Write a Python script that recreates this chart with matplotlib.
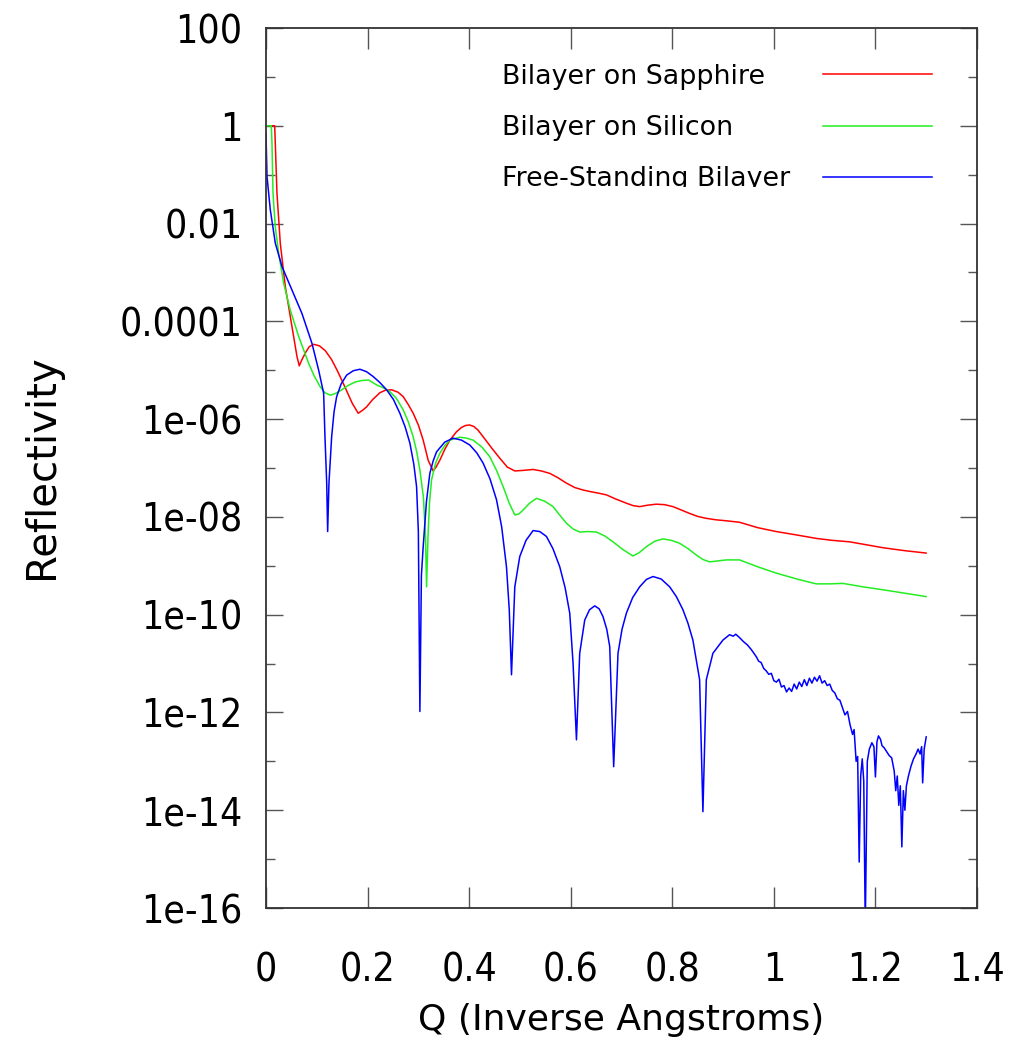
import matplotlib
matplotlib.use("Agg")
import matplotlib.pyplot as plt
import numpy as np
from matplotlib.patches import Rectangle
from matplotlib.ticker import FixedLocator, FixedFormatter, NullFormatter

# ---------------- data ----------------
series_names = ["Bilayer on Sapphire", "Bilayer on Silicon", "Free-Standing Bilayer"]
series_colors = ["#ff0000", "#22ee22", "#0000ff"]

q_sapphire = [0.0, 0.0171, 0.0183, 0.0216, 0.0281, 0.0380, 0.0512, 0.0610, 0.0655, 0.0700,
              0.0773, 0.0850, 0.0938, 0.1050, 0.1167, 0.1290, 0.1400, 0.1500, 0.1600, 0.1700,
              0.1816, 0.1900, 0.1981, 0.2100, 0.2243, 0.2350, 0.2473, 0.2600, 0.2701, 0.2800,
              0.2898, 0.3000, 0.3095, 0.3193, 0.3291, 0.3350, 0.3423, 0.3520, 0.3620, 0.3750,
              0.3850, 0.3930, 0.4010, 0.4090, 0.4170, 0.4275, 0.4450, 0.4604, 0.4750, 0.4899,
              0.5050, 0.5259, 0.5420, 0.5587, 0.5750, 0.5916, 0.6080, 0.6242, 0.6374, 0.6571,
              0.6703, 0.6900, 0.7096, 0.7230, 0.7358, 0.7520, 0.7686, 0.7850, 0.8013, 0.8180,
              0.8342, 0.8500, 0.8670, 0.8864, 0.9064, 0.9325, 0.9680, 1.0047, 1.0450, 1.0834,
              1.1150, 1.1489, 1.1820, 1.2144, 1.2570, 1.2998]
log_sapphire = [0.0, 0.0, -0.36, -1.38, -2.40, -3.29, -4.11, -4.72, -4.91, -4.80,
                -4.65, -4.52, -4.47, -4.50, -4.60, -4.78, -5.00, -5.22, -5.45, -5.68,
                -5.88, -5.82, -5.75, -5.60, -5.46, -5.41, -5.40, -5.45, -5.54, -5.70,
                -5.88, -6.12, -6.43, -6.84, -7.06, -6.98, -6.84, -6.62, -6.43, -6.26,
                -6.17, -6.13, -6.12, -6.15, -6.22, -6.36, -6.60, -6.80, -6.98, -7.06,
                -7.05, -7.03, -7.06, -7.11, -7.20, -7.31, -7.40, -7.45, -7.48, -7.52,
                -7.55, -7.64, -7.72, -7.77, -7.79, -7.76, -7.74, -7.75, -7.79, -7.86,
                -7.93, -7.99, -8.03, -8.06, -8.08, -8.11, -8.22, -8.30, -8.37, -8.44,
                -8.48, -8.51, -8.57, -8.63, -8.69, -8.74]

q_silicon = [0.0, 0.0104, 0.0118, 0.0138, 0.0183, 0.0250, 0.0348, 0.0478, 0.0643, 0.0840,
             0.0950, 0.1068, 0.1160, 0.1265, 0.1380, 0.1495, 0.1620, 0.1757, 0.1890, 0.2020,
             0.2178, 0.2310, 0.2440, 0.2570, 0.2701, 0.2800, 0.2898, 0.2970, 0.3030, 0.3100,
             0.3140, 0.3162, 0.3190, 0.3220, 0.3260, 0.3340, 0.3423, 0.3520, 0.3620, 0.3817,
             0.3950, 0.4078, 0.4250, 0.4407, 0.4540, 0.4669, 0.4790, 0.4899, 0.4980, 0.5062,
             0.5190, 0.5326, 0.5490, 0.5652, 0.5780, 0.5916, 0.6050, 0.6177, 0.6340, 0.6506,
             0.6670, 0.6833, 0.7030, 0.7226, 0.7350, 0.7490, 0.7650, 0.7816, 0.7980, 0.8145,
             0.8310, 0.8473, 0.8600, 0.8735, 0.8900, 0.9064, 0.9325, 0.9680, 1.0047, 1.0450,
             1.0834, 1.1100, 1.1357, 1.1750, 1.2144, 1.2570, 1.2998]
log_silicon = [0.0, 0.0, -0.36, -1.38, -2.07, -2.61, -3.22, -3.77, -4.31, -4.86,
               -5.12, -5.34, -5.46, -5.51, -5.47, -5.40, -5.31, -5.24, -5.21, -5.20,
               -5.30, -5.36, -5.44, -5.58, -5.81, -6.05, -6.36, -6.68, -7.04, -7.60,
               -8.40, -9.43, -8.40, -7.70, -7.24, -6.90, -6.70, -6.54, -6.43, -6.37,
               -6.39, -6.43, -6.57, -6.77, -7.05, -7.38, -7.72, -7.96, -7.94, -7.86,
               -7.72, -7.62, -7.68, -7.79, -7.96, -8.13, -8.25, -8.31, -8.30, -8.31,
               -8.39, -8.51, -8.67, -8.80, -8.73, -8.61, -8.50, -8.45, -8.48, -8.54,
               -8.65, -8.78, -8.87, -8.92, -8.90, -8.88, -8.88, -9.02, -9.15, -9.27,
               -9.37, -9.37, -9.36, -9.43, -9.49, -9.56, -9.63]

q_free = [0.0, 0.0020, 0.0085, 0.0183, 0.0315, 0.0512, 0.0708, 0.0905, 0.1037, 0.1135,
          0.1161, 0.1195, 0.1214, 0.1240, 0.1293, 0.1340, 0.1391, 0.1480, 0.1588, 0.1720,
          0.1849, 0.1980, 0.2111, 0.2240, 0.2375, 0.2510, 0.2636, 0.2740, 0.2833, 0.2910,
          0.2965, 0.3000, 0.3030, 0.3060, 0.3095, 0.3160, 0.3226, 0.3290, 0.3358, 0.3520,
          0.3685, 0.3850, 0.4013, 0.4150, 0.4275, 0.4410, 0.4539, 0.4640, 0.4735, 0.4790,
          0.4834, 0.4870, 0.4899, 0.4997, 0.5120, 0.5259, 0.5390, 0.5522, 0.5650, 0.5784,
          0.5890, 0.5981, 0.6046, 0.6113, 0.6177, 0.6276, 0.6370, 0.6473, 0.6560, 0.6636,
          0.6710, 0.6768, 0.6846, 0.6931, 0.7010, 0.7096, 0.7220, 0.7358, 0.7490, 0.7620,
          0.7780, 0.7948, 0.8080, 0.8210, 0.8310, 0.8406, 0.8538, 0.8603, 0.8670, 0.8800,
          0.8997, 0.9128, 0.9200, 0.9250, 0.9325, 0.9400, 0.9480, 0.9560, 0.9654,
          0.970, 0.975, 0.980, 0.985, 0.990, 0.995, 1.000, 1.005, 1.010, 1.015,
          1.020, 1.025, 1.030, 1.035, 1.040, 1.045, 1.050, 1.055, 1.060, 1.065,
          1.070, 1.075, 1.080, 1.085, 1.090, 1.095, 1.100, 1.105, 1.110, 1.115,
          1.120, 1.125, 1.130, 1.135, 1.140, 1.145, 1.150, 1.155, 1.158, 1.162,
          1.165, 1.168, 1.171, 1.174, 1.177, 1.180, 1.184, 1.188, 1.193, 1.197,
          1.200, 1.203, 1.206, 1.210, 1.213, 1.217, 1.222, 1.227, 1.232, 1.237,
          1.240, 1.243, 1.246, 1.249, 1.252, 1.255, 1.258, 1.261, 1.265, 1.270,
          1.275, 1.280, 1.284, 1.288, 1.291, 1.293, 1.296, 1.300]
log_free = [-0.16, -1.04, -1.72, -2.40, -2.88, -3.36, -3.84, -4.45, -5.00, -5.47,
            -6.36, -7.30, -8.30, -7.30, -6.36, -5.85, -5.54, -5.28, -5.10, -5.01,
            -4.98, -5.03, -5.13, -5.25, -5.40, -5.60, -5.88, -6.16, -6.49, -6.92,
            -7.38, -8.30, -11.98, -9.20, -8.61, -7.68, -7.11, -6.86, -6.67, -6.47,
            -6.39, -6.43, -6.53, -6.69, -6.90, -7.22, -7.65, -8.20, -9.02, -9.90,
            -11.23, -10.20, -9.43, -8.81, -8.48, -8.28, -8.30, -8.40, -8.65, -9.02,
            -9.45, -9.97, -10.99, -12.56, -10.79, -10.11, -9.90, -9.82, -9.88, -10.04,
            -10.30, -10.65, -13.11, -10.79, -10.30, -9.97, -9.65, -9.43, -9.28, -9.22,
            -9.27, -9.43, -9.63, -9.90, -10.18, -10.52, -11.33, -14.03, -11.33, -10.79,
            -10.52, -10.41, -10.44, -10.40, -10.47, -10.55, -10.62, -10.72, -10.86,
            -10.95, -10.98, -11.10, -11.15, -11.22, -11.20, -11.35, -11.38, -11.32, -11.48,
            -11.45, -11.58, -11.50, -11.57, -11.42, -11.52, -11.38, -11.47, -11.33, -11.45,
            -11.30, -11.40, -11.28, -11.36, -11.25, -11.40, -11.35, -11.45, -11.42, -11.55,
            -11.60, -11.72, -11.75, -11.90, -12.05, -11.98, -12.25, -12.45, -12.35, -13.00,
            -12.90, -15.06, -13.30, -12.95, -13.40, -16.40, -13.00, -12.75, -12.62, -12.70,
            -13.32, -12.60, -12.48, -12.55, -12.68, -12.72, -12.80, -12.88, -12.93, -13.20,
            -13.60, -13.30, -13.90, -13.50, -14.75, -13.60, -14.00, -13.50, -13.30, -13.10,
            -12.95, -12.85, -12.75, -12.85, -12.70, -13.44, -12.75, -12.50]

x_ticks = [0, 0.2, 0.4, 0.6, 0.8, 1.0, 1.2, 1.4]
x_tick_labels = ["0", "0.2", "0.4", "0.6", "0.8", "1", "1.2", "1.4"]
y_ticks = [1e2, 1e0, 1e-2, 1e-4, 1e-6, 1e-8, 1e-10, 1e-12, 1e-14, 1e-16]
y_tick_labels = ["100", "1", "0.01", "0.0001", "1e-06", "1e-08", "1e-10", "1e-12", "1e-14", "1e-16"]
y_minor_ticks = [1e1, 1e-1, 1e-3, 1e-5, 1e-7, 1e-9, 1e-11, 1e-13, 1e-15]

# ---------------- figure ----------------
W, H = 1028, 1063
fig = plt.figure(figsize=(W / 100, H / 100), dpi=100)
fig.patch.set_facecolor("white")
ax = fig.add_axes([266 / W, 1 - 908 / H, (977 - 266) / W, (908 - 28) / H])

all_q = [q_sapphire, q_silicon, q_free]
all_log = [log_sapphire, log_silicon, log_free]
for q, lg, c in zip(all_q, all_log, series_colors):
    ax.plot(q, np.power(10.0, lg), color=c, lw=1.1, solid_joinstyle="round")

ax.set_yscale("log")
ax.set_xlim(0, 1.4)
ax.set_ylim(1e-16, 1e2)

ax.xaxis.set_major_locator(FixedLocator(x_ticks))
ax.xaxis.set_major_formatter(FixedFormatter(x_tick_labels))
ax.yaxis.set_major_locator(FixedLocator(y_ticks))
ax.yaxis.set_major_formatter(FixedFormatter(y_tick_labels))
ax.yaxis.set_minor_locator(FixedLocator(y_minor_ticks))
ax.yaxis.set_minor_formatter(NullFormatter())
ax.xaxis.set_minor_locator(FixedLocator([]))

ax.tick_params(axis="x", which="major", direction="in", length=15, width=1.0,
               color="#555555", top=True, pad=31)
ax.tick_params(axis="y", which="major", direction="in", length=12, width=1.0,
               color="#555555", right=True, pad=17)
ax.tick_params(axis="y", which="minor", direction="in", length=6.5, width=1.0,
               color="#555555", right=True)
for lab in ax.get_xticklabels() + ax.get_yticklabels():
    lab.set_fontfamily("DejaVu Sans")
    lab.set_fontstretch("condensed")
    lab.set_fontsize(28)

for sp in ax.spines.values():
    sp.set_color("#333333")
    sp.set_linewidth(1.3)

# axis labels
fig.text(42 / W, 1 - 467 / H, "Reflectivity", rotation=90, ha="center", va="center",
         fontsize=29, family="DejaVu Sans")
fig.text(621 / W, 1 - 1020 / H, "Q (Inverse Angstroms)", ha="center", va="center",
         fontsize=26, family="DejaVu Sans")

# legend (manual, gnuplot style)
leg_text_y = [83.5, 135, 186]
leg_line_y = [74, 126, 177]
clip = Rectangle((0, H - 186.5), W, 186.5, transform=None, visible=False)
fig.add_artist(clip)
for name, c, ty, ly in zip(series_names, series_colors, leg_text_y, leg_line_y):
    t = fig.text(502 / W, 1 - ty / H, name, ha="left", va="baseline",
                 fontsize=19.4, family="DejaVu Sans")
    t.set_clip_path(clip)
    fig.add_artist(plt.Line2D([823 / W, 932 / W], [1 - ly / H, 1 - ly / H],
                              transform=fig.transFigure, color=c, lw=1.1))

fig.savefig("out.png", dpi=100)
